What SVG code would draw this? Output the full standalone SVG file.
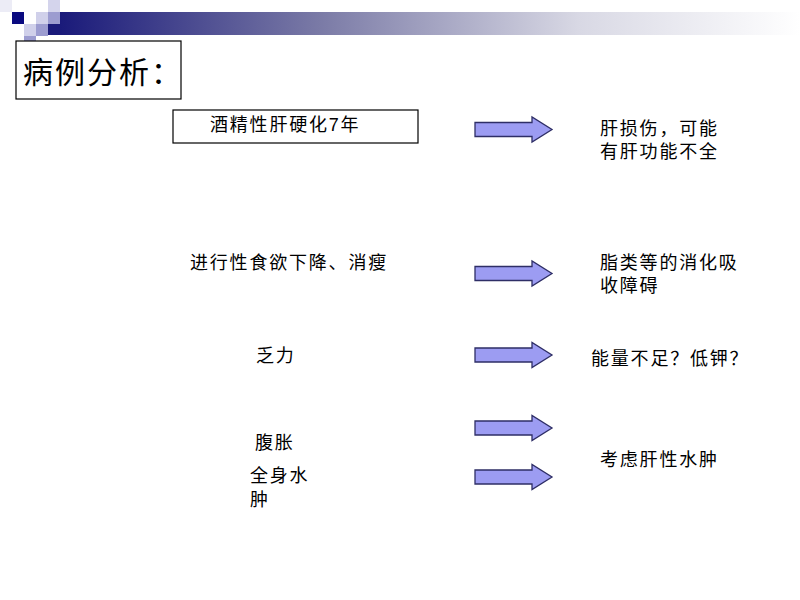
<svg xmlns="http://www.w3.org/2000/svg" width="800" height="600" viewBox="0 0 800 600">
  <defs>
    <linearGradient id="band" x1="0" y1="0" x2="1" y2="0">
      <stop offset="0" stop-color="#1a1a7a"/>
      <stop offset="0.35" stop-color="#7a7aa6"/>
      <stop offset="0.7" stop-color="#d8d8e4"/>
      <stop offset="1" stop-color="#ffffff"/>
    </linearGradient>
    <path id="arrow" d="M0,-7 H57 V-12.5 L77,0 L57,12.5 V7 H0 Z"/>
  </defs>
  <style>
    text { font-family: "Liberation Sans", "Noto Sans CJK SC", sans-serif; fill: #000; }
    .t { font-size: 18px; letter-spacing: 1.8px; }
    .title { font-size: 30px; letter-spacing: 2px; }
    .box { fill: #fff; stroke: #000; stroke-width: 1.2; }
    .arr { fill: #9c9cf2; stroke: #2e2e66; stroke-width: 1.3; }
  </style>
  <rect width="800" height="600" fill="#fff"/>
  <g id="decoration">
    <rect x="60" y="12" width="740" height="23" fill="url(#band)"/>
    <rect x="0" y="0" width="12" height="12" fill="#ececf6"/>
    <rect x="48" y="0" width="12" height="12" fill="#d4d4ec"/>
    <rect x="12" y="12" width="12" height="12" fill="#0a0a80"/>
    <rect x="36" y="12" width="12" height="12" fill="#d0d0ea"/>
    <rect x="48" y="12" width="12" height="12" fill="#9c9cd0"/>
    <rect x="24" y="24" width="12" height="12" fill="#d0d0ea"/>
    <rect x="36" y="24" width="12" height="12" fill="#9c9cd0"/>
    <rect x="48" y="24" width="12" height="11" fill="#1a1a7a"/>
    <rect x="24" y="36" width="12" height="12" fill="#9c9cd0"/>
  </g>
  <g id="title">
    <rect class="box" x="16" y="41" width="165" height="58"/>
    <text class="title" x="23" y="83">病例分析：</text>
  </g>
  <g id="n-cirrhosis">
    <rect class="box" x="173" y="110" width="245" height="33"/>
    <text class="t" x="210" y="131">酒精性肝硬化7年</text>
  </g>
  <g id="n-liver-damage">
    <text class="t" x="600" y="135">肝损伤，可能</text>
    <text class="t" x="600" y="158">有肝功能不全</text>
  </g>
  <g id="n-appetite">
    <text class="t" x="190" y="269">进行性食欲下降、消瘦</text>
  </g>
  <g id="n-digestion">
    <text class="t" x="600" y="269">脂类等的消化吸</text>
    <text class="t" x="600" y="292">收障碍</text>
  </g>
  <g id="n-fatigue">
    <text class="t" x="256" y="362">乏力</text>
  </g>
  <g id="n-energy">
    <text class="t" x="591" y="365">能量不足？低钾？</text>
  </g>
  <g id="n-bloating">
    <text class="t" x="255" y="449">腹胀</text>
  </g>
  <g id="n-edema">
    <text class="t" x="250" y="482">全身水</text>
    <text class="t" x="250" y="506">肿</text>
  </g>
  <g id="n-hepatic-edema">
    <text class="t" x="600" y="466">考虑肝性水肿</text>
  </g>
  <g id="connectors">
    <use href="#arrow" class="arr" transform="translate(475,129.5)"/>
    <use href="#arrow" class="arr" transform="translate(475,273.5)"/>
    <use href="#arrow" class="arr" transform="translate(475,355)"/>
    <use href="#arrow" class="arr" transform="translate(475,428)"/>
    <use href="#arrow" class="arr" transform="translate(475,477)"/>
  </g>
</svg>
